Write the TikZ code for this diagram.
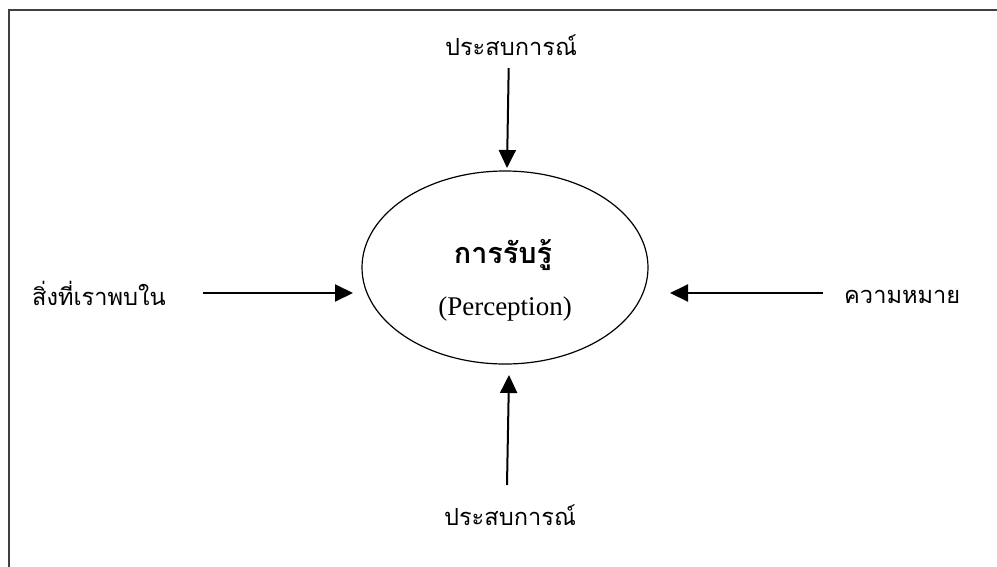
\documentclass[tikz,border=0pt]{standalone}
\usepackage{fontspec}
\setmainfont{Liberation Serif}
\newfontfamily\thaifont[Script=Thai]{Loma}
\usetikzlibrary{arrows.meta,shapes.geometric}
\begin{document}
\begin{tikzpicture}[x=1pt,y=-1pt,
  thailabel/.style={font=\thaifont\fontsize{23.6}{28}\selectfont, inner sep=0pt, anchor=base},
  flow/.style={line width=2pt, -{Triangle[length=18pt,width=17pt]}}]
\useasboundingbox (0,0) rectangle (997,566);
% outer frame (runs past the right and lower edges)
\draw[line width=2pt, black!75] (9,600) -- (9,9.5) -- (1010,9.5);

% central concept
\node[draw, ellipse, line width=1.2pt, minimum width=286pt, minimum height=193pt] (core) at (505,267.5) {};
\node[font=\thaifont\bfseries\fontsize{28.8}{32}\selectfont, inner sep=0pt, anchor=base] (title) at (503,263) {การรับรู้};
\node[font=\fontsize{27}{30}\selectfont, inner sep=0pt, anchor=base] (eng) at (505,315) {(Perception)};

% surrounding factors
\node[thailabel] (top) at (511,55) {ประสบการณ์};
\node[thailabel] (bottom) at (510,525) {ประสบการณ์};
\node[thailabel, anchor=base west] (left) at (32,305) {สิ่งที่เราพบใน};
\node[thailabel, anchor=base west] (right) at (844,303) {ความหมาย};

% arrow ends
\coordinate (topA) at (508.7,68);
\coordinate (topB) at (507,168);
\coordinate (botA) at (507,485);
\coordinate (botB) at (509,375);
\coordinate (leftA) at (203,293);
\coordinate (leftB) at (353,293);
\coordinate (rightA) at (823,293);
\coordinate (rightB) at (670,293);

\draw[flow] (topA) -- (topB);
\draw[flow] (botA) -- (botB);
\draw[flow] (leftA) -- (leftB);
\draw[flow] (rightA) -- (rightB);
\end{tikzpicture}
\end{document}
